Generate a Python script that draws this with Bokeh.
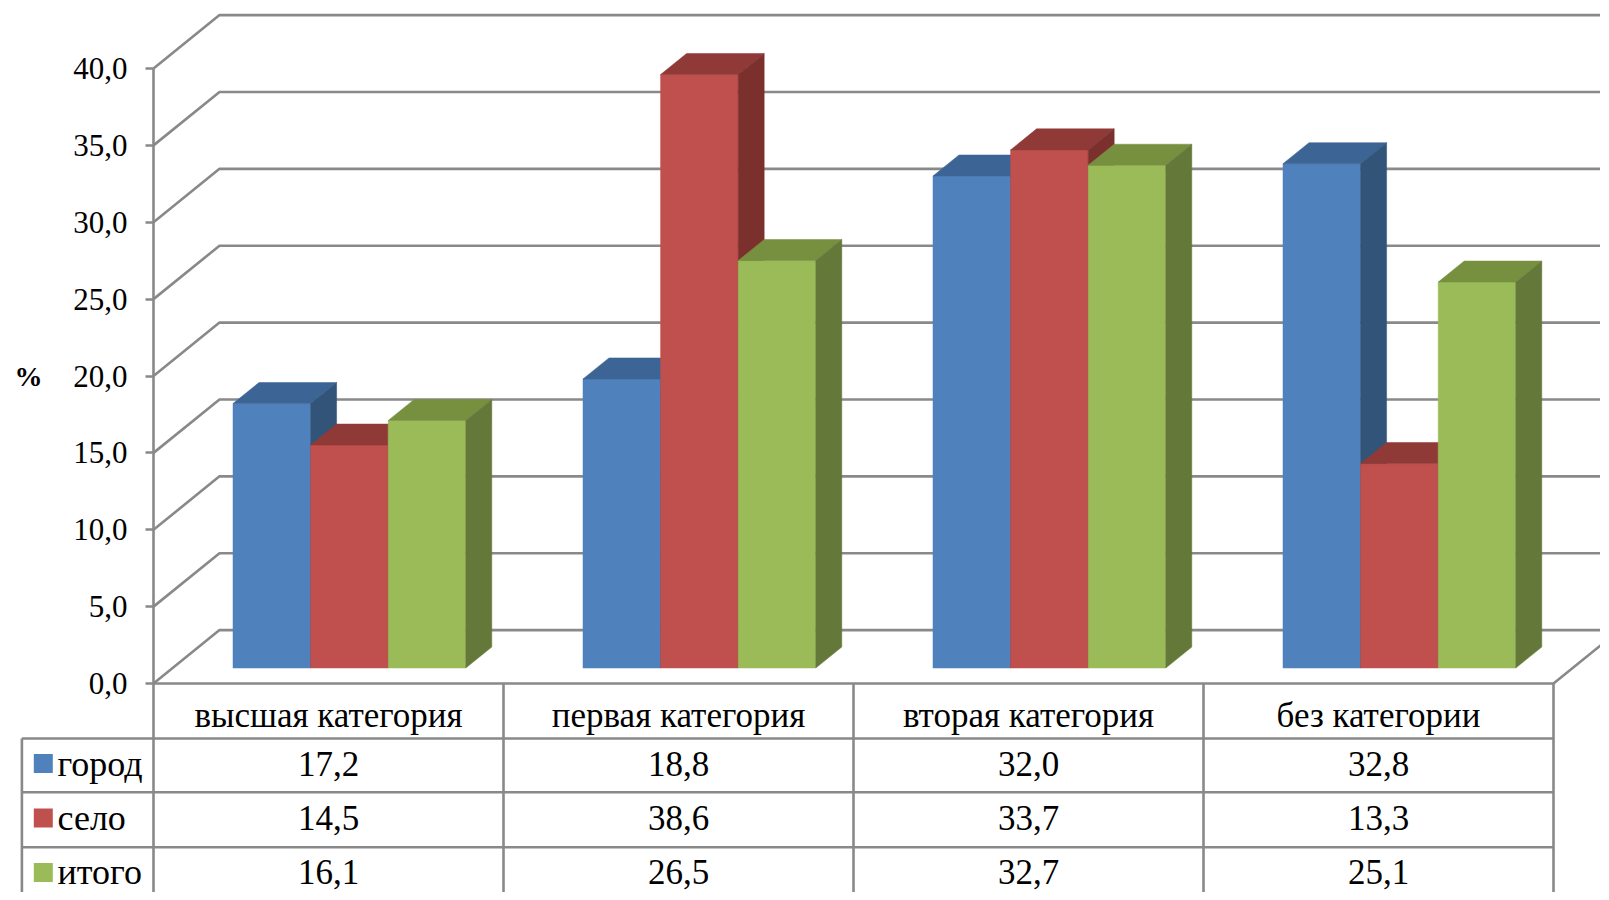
from bokeh.plotting import figure
from bokeh.models import FixedTicker, CustomJSTickFormatter
from bokeh.core.properties import value
from bokeh.embed import file_html
from bokeh.resources import INLINE

# ---------------- data ----------------
categories = ["высшая категория", "первая категория", "вторая категория", "без категории"]
series_names = ["город", "село", "итого"]
gorod = [17.2, 18.8, 32.0, 32.8]
selo = [14.5, 38.6, 33.7, 13.3]
itogo = [16.1, 26.5, 32.7, 25.1]
y_ticks = [0, 5, 10, 15, 20, 25, 30, 35, 40]
y_axis_title = "%"

series_values = [gorod, selo, itogo]

# ---------------- styles ----------------
front_colors = ["#4F81BD", "#C0504D", "#9BBB59"]
top_colors = ["#3C6494", "#8F3A37", "#77903F"]
side_colors = ["#325479", "#7B302E", "#64783A"]
GRID = "#898989"
FONT = "Liberation Serif"

# ---------------- layout (data units: 1 category wide, value units tall) ----------------
W, H = 1600, 892
AX_X, FLOOR_Y = 153, 683          # pixel position of the axis / floor front edge
PX_X, PX_Y = 350.0, 15.375
x_rng = (-AX_X / PX_X, (W - AX_X) / PX_X)
y_rng = ((FLOOR_Y - H) / PX_Y, FLOOR_Y / PX_Y)


def px_y(Y):
    return (FLOOR_Y - Y) / PX_Y


def px_x(X):
    return (X - AX_X) / PX_X


DX, DY = 66 / PX_X, 53.4 / PX_Y          # depth of the back wall
D0, D1 = 0.29, 0.684                     # bar depth extent (fraction of wall depth)
BW = 0.2217                              # bar width
GC = 0.505                               # group centre within category
n = len(categories)

p = figure(width=W, height=H, x_range=x_rng, y_range=y_rng,
           output_backend="svg", toolbar_location=None, tools="",
           x_axis_location=None, y_axis_location="left",
           min_border=0, outline_line_color=None,
           background_fill_color="white", border_fill_color="white")
p.grid.visible = False

# ---- walls / grid ----
xs, ys = [], []
for v in y_ticks:
    xs.append([0, DX, x_rng[1] + 1])
    ys.append([v, v + DY, v + DY])
p.multi_line(xs, ys, line_color=GRID, line_width=2.6)
# floor front edge and right diagonal
p.line([0, n, n + DX], [0, 0, DY], line_color=GRID, line_width=2.6)

# ---- y axis ----
ax = p.yaxis[0]
ax.fixed_location = 0
ax.bounds = (0, 40)
ax.ticker = FixedTicker(ticks=y_ticks)
ax.formatter = CustomJSTickFormatter(code="return tick.toFixed(1).replace('.', ',');")
ax.axis_line_color = GRID
ax.axis_line_width = 2.6
ax.major_tick_line_color = GRID
ax.major_tick_line_width = 2.6
ax.major_tick_out = 8
ax.major_tick_in = 0
ax.minor_tick_line_color = None
ax.major_label_text_font = FONT
ax.major_label_text_font_size = "31px"
ax.major_label_text_color = "black"
ax.major_label_standoff = 18

p.text(x=[px_x(28)], y=[20], text=[y_axis_title], text_font=value(FONT),
       text_font_size="28px", text_font_style="bold", text_align="center",
       text_baseline="middle", text_color="black")

# ---- 3D bars ----
bdx, bdy = (D1 - D0) * DX, (D1 - D0) * DY
yb = D0 * DY
for j, vals in enumerate(series_values):
    left, right, top = [], [], []
    txs, tys, sxs, sys_ = [], [], [], []
    for i, v in enumerate(vals):
        x0 = i + GC + (j - 1.5) * BW + D0 * DX
        x1 = x0 + BW
        yt = yb + v
        left.append(x0); right.append(x1); top.append(yt)
        txs.append([x0, x1, x1 + bdx, x0 + bdx])
        tys.append([yt, yt, yt + bdy, yt + bdy])
        sxs.append([x1, x1, x1 + bdx, x1 + bdx])
        sys_.append([yb, yt, yt + bdy, yb + bdy])
    p.quad(left=left, right=right, bottom=[yb] * n, top=top,
           fill_color=front_colors[j], line_color=front_colors[j], line_width=0.5)
    p.patches(txs, tys, fill_color=top_colors[j], line_color=top_colors[j], line_width=0.5)
    p.patches(sxs, sys_, fill_color=side_colors[j], line_color=side_colors[j], line_width=0.5)

# ---- data table ----
row_lines = [px_y(738), px_y(791.7), px_y(846.7)]
tab_left = px_x(21.4)
tab_bottom = y_rng[0] - 2
hx, hy = [], []
for yl in row_lines:
    hx.append([tab_left, n]); hy.append([yl, yl])
for i in range(n + 1):
    hx.append([i, i]); hy.append([0, tab_bottom])
hx.append([tab_left, tab_left]); hy.append([row_lines[0], tab_bottom])
p.multi_line(hx, hy, line_color=GRID, line_width=2.6)

header_base = px_y(715)
row_base = [px_y(763), px_y(817), px_y(871)]

p.text(x=[i + 0.5 for i in range(n)], y=[header_base] * n, text=categories,
       text_font=value(FONT), text_font_size="35px", text_align="center",
       text_baseline="alphabetic", text_color="black")

for j, vals in enumerate(series_values):
    p.text(x=[i + 0.5 for i in range(n)], y=[row_base[j]] * n,
           text=[f"{v:.1f}".replace(".", ",") for v in vals],
           text_font=value(FONT), text_font_size="35px", text_align="center",
           text_baseline="alphabetic", text_color="black")

sq_y = [px_y(763), px_y(817.5), px_y(872)]
p.scatter(x=[px_x(42.8)] * 3, y=sq_y, marker="square",
          size=19, fill_color=front_colors, line_color=None)
p.text(x=[px_x(57)] * 3, y=row_base, text=series_names,
       text_font=value(FONT), text_font_size="36px", text_align="left",
       text_baseline="alphabetic", text_color="black")

open("out.html", "w").write(file_html(p, INLINE))
